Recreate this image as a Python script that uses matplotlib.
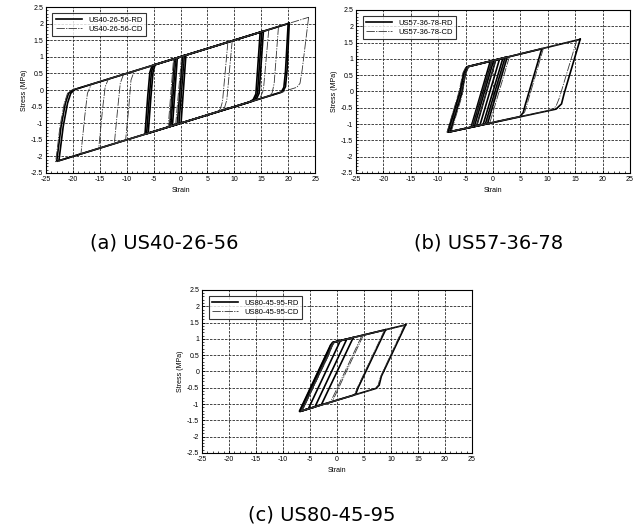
import matplotlib
matplotlib.use('Agg')
import matplotlib.pyplot as plt
from matplotlib.ticker import MultipleLocator

plt.rcParams['font.family'] = ['Liberation Sans', 'DejaVu Sans']
plt.rcParams['axes.unicode_minus'] = False

# axis ticks
strain_ticks = [-25, -20, -15, -10, -5, 0, 5, 10, 15, 20, 25]
strain_labels = ['-25', '-20', '-15', '-10', '-5', '0', '5', '10', '15', '20', '25']
stress_ticks = [-2.5, -2, -1.5, -1, -0.5, 0, 0.5, 1, 1.5, 2, 2.5]
stress_labels = ['-2.5', '-2', '-1.5', '-1', '-0.5', '0', '0.5', '1', '1.5', '2', '2.5']

# hysteresis loops: (strain, stress MPa) vertices
a_rd = [
    [(1.0, 1.05), (0.1, -0.99), (-1.5, -1.08), (-0.6, 0.97), (1.0, 1.05)],
    [(0.7, 1.04), (-0.3, -1.02), (-1.8, -1.09), (-0.9, 0.95), (0.7, 1.04)],
    [(0.4, 1.02), (-0.6, -1.03), (-2.0, -1.1), (-1.1, 0.94), (0.4, 1.02)],
    [(15.1, 1.76), (14.3, -0.1), (13.8, -0.28), (13.0, -0.35), (-6.3, -1.32),
     (-5.8, -0.2), (-5.4, 0.55), (-5.0, 0.75), (15.1, 1.76)],
    [(15.4, 1.77), (14.6, -0.1), (14.1, -0.27), (13.3, -0.34), (-6.0, -1.3),
     (-5.5, -0.2), (-5.1, 0.55), (-4.7, 0.77), (15.4, 1.77)],
    [(14.8, 1.74), (14.0, -0.12), (13.5, -0.29), (12.7, -0.37), (-6.6, -1.33),
     (-6.1, -0.2), (-5.7, 0.53), (-5.3, 0.73), (14.8, 1.74)],
    [(20.2, 2.01), (19.8, 0.6), (19.5, 0.1), (19.0, -0.05), (-23.0, -2.15),
     (-22.2, -1.1), (-21.4, -0.4), (-20.8, -0.1), (-20.0, 0.0), (20.2, 2.01)],
    [(20.0, 2.0), (19.5, 0.55), (19.2, 0.08), (18.7, -0.07), (-22.6, -2.13),
     (-21.8, -1.1), (-21.0, -0.4), (-20.4, -0.1), (-19.6, 0.02), (20.0, 2.0)],
]
a_cd = [
    [(0.6, 1.03), (-0.5, -1.02), (-2.0, -1.1), (-1.0, 0.95), (0.6, 1.03)],
    [(0.2, 1.01), (-0.9, -1.04), (-2.3, -1.12), (-1.3, 0.93), (0.2, 1.01)],
    [(23.8, 2.19), (22.6, 0.6), (22.2, 0.2), (21.6, 0.08), (-23.2, -2.16),
     (-22.4, -1.1), (-21.6, -0.4), (-21.0, -0.1), (-20.3, -0.01), (23.8, 2.19)],
    [(16.4, 1.82), (15.4, 0.0), (14.9, -0.2), (14.3, -0.28), (-18.5, -1.92),
     (-17.8, -0.8), (-17.3, -0.1), (-16.6, 0.17), (16.4, 1.82)],
    [(18.2, 1.91), (17.4, 0.2), (17.0, -0.1), (16.4, -0.18), (-15.2, -1.76),
     (-14.5, -0.6), (-14.0, 0.1), (-13.4, 0.33), (18.2, 1.91)],
    [(8.8, 1.44), (7.8, -0.35), (7.4, -0.57), (6.8, -0.66), (-12.3, -1.62),
     (-11.7, -0.6), (-11.2, 0.2), (-10.6, 0.47), (8.8, 1.44)],
    [(9.6, 1.48), (8.6, -0.3), (8.2, -0.52), (7.6, -0.62), (-10.2, -1.51),
     (-9.6, -0.5), (-9.2, 0.3), (-8.6, 0.57), (9.6, 1.48)],
]

b_rd = [
    [(15.9, 1.6), (13.0, -0.05), (12.5, -0.38), (11.5, -0.54), (-8.2, -1.25),
     (-6.0, 0.0), (-5.3, 0.58), (-4.8, 0.75), (15.9, 1.6)],
    [(8.9, 1.31), (5.9, -0.4), (5.5, -0.65), (4.9, -0.77), (-7.8, -1.23),
     (-5.8, -0.1), (-5.2, 0.55), (-4.6, 0.76), (8.9, 1.31)],
    [(2.6, 1.06), (-1.0, -0.99), (-3.4, -1.07), (0.1, 0.95), (2.6, 1.06)],
    [(2.2, 1.04), (-1.4, -1.0), (-3.7, -1.08), (-0.2, 0.94), (2.2, 1.04)],
    [(1.8, 1.02), (-1.8, -1.01), (-4.0, -1.09), (-0.5, 0.93), (1.8, 1.02)],
    [(0.5, 0.97), (-3.0, -1.06), (-8.3, -1.25), (-6.0, 0.0), (-5.3, 0.58),
     (-4.8, 0.75), (0.5, 0.97)],
    [(1.2, 1.0), (-2.4, -1.04), (-7.9, -1.24), (-5.7, 0.0), (-5.0, 0.57),
     (-4.5, 0.77), (1.2, 1.0)],
]
b_cd = [
    [(15.3, 1.58), (12.1, -0.2), (11.5, -0.45), (10.8, -0.56), (-8.4, -1.25),
     (-6.2, 0.0), (-5.5, 0.57), (-5.0, 0.74), (15.3, 1.58)],
    [(9.2, 1.33), (6.2, -0.4), (5.8, -0.62), (5.2, -0.76), (-7.6, -1.22),
     (-5.6, -0.1), (-5.0, 0.55), (-4.4, 0.77), (9.2, 1.33)],
    [(3.0, 1.07), (-0.6, -0.97), (-3.0, -1.06), (0.5, 0.97), (3.0, 1.07)],
    [(2.4, 1.05), (-1.2, -0.99), (-3.6, -1.08), (-0.1, 0.95), (2.4, 1.05)],
    [(-0.3, 0.94), (-3.9, -1.09), (-8.0, -1.24), (-5.8, 0.0), (-5.1, 0.57),
     (-4.6, 0.76), (-0.3, 0.94)],
]

c_rd = [
    [(12.7, 1.43), (8.2, -0.15), (7.8, -0.42), (7.2, -0.52), (-6.8, -1.22),
     (-1.8, 0.5), (-1.2, 0.78), (-0.8, 0.89), (12.7, 1.43)],
    [(9.0, 1.28), (3.9, -0.5), (3.5, -0.68), (3.0, -0.73), (-6.6, -1.21),
     (-1.6, 0.52), (-1.0, 0.8), (-0.6, 0.9), (9.0, 1.28)],
    [(3.0, 1.04), (-2.9, -1.02), (-6.7, -1.22), (-0.9, 0.83), (-0.6, 0.9), (3.0, 1.04)],
    [(1.8, 0.99), (-4.1, -1.09), (-6.9, -1.23), (-1.1, 0.82), (-0.7, 0.89), (1.8, 0.99)],
    [(0.6, 0.94), (-5.3, -1.14), (-7.0, -1.23), (-1.2, 0.81), (-0.8, 0.89), (0.6, 0.94)],
]
c_cd = [
    [(12.5, 1.42), (8.0, -0.18), (7.6, -0.43), (7.0, -0.53), (-6.7, -1.22),
     (-1.7, 0.5), (-1.1, 0.78), (-0.7, 0.89), (12.5, 1.42)],
    [(8.8, 1.27), (3.7, -0.52), (3.3, -0.7), (2.8, -0.74), (-6.5, -1.21),
     (-1.5, 0.52), (-0.9, 0.8), (-0.5, 0.9), (8.8, 1.27)],
    [(4.6, 1.1), (-1.2, -0.94), (-6.4, -1.2), (-0.7, 0.84), (-0.4, 0.9), (4.6, 1.1)],
    [(4.9, 1.12), (-0.9, -0.93), (-6.5, -1.2), (-0.8, 0.84), (-0.4, 0.9), (4.9, 1.12)],
]

specimens = ['US40-26-56', 'US57-36-78', 'US80-45-95']
captions = ['(a) US40-26-56', '(b) US57-36-78', '(c) US80-45-95']

fig = plt.figure(figsize=(6.43, 5.31), dpi=100)

rects = [[0.0715, 0.6742, 0.4185, 0.3126],
         [0.5537, 0.6742, 0.4261, 0.3070],
         [0.3142, 0.1469, 0.4199, 0.3070]]
cap_pos = [(0.255, 0.542), (0.760, 0.542), (0.50, 0.030)]


def draw(ax, rd, cd, name):
    for i, loop in enumerate(rd):
        xs, ys = zip(*loop)
        ax.plot(xs, ys, color='black', lw=1.2, solid_joinstyle='miter',
                label=name + '-RD' if i == 0 else None)
    for i, loop in enumerate(cd):
        xs, ys = zip(*loop)
        ax.plot(xs, ys, color='0.2', lw=0.6, dashes=(10, 1.5, 1.5, 1.5),
                label=name + '-CD' if i == 0 else None)

    ax.set_xlim(-25, 25)
    ax.set_ylim(-2.5, 2.5)
    ax.set_xticks(strain_ticks)
    ax.set_xticklabels(strain_labels)
    ax.set_yticks(stress_ticks)
    ax.set_yticklabels(stress_labels)
    ax.xaxis.set_minor_locator(MultipleLocator(1))
    ax.yaxis.set_minor_locator(MultipleLocator(0.1))
    ax.tick_params(which='both', direction='in', labelsize=5, pad=2)
    ax.tick_params(which='major', length=2.5, width=0.6)
    ax.tick_params(which='minor', length=1.5, width=0.5)
    ax.grid(True, which='major', color='0.15', lw=0.6, linestyle=(0, (3, 1.5)))
    for s in ax.spines.values():
        s.set_linewidth(0.8)
    ax.set_xlabel('Strain', fontsize=5, labelpad=3)
    ax.set_ylabel('Stress (MPa)', fontsize=5, labelpad=2)
    leg = ax.legend(loc='upper left', bbox_to_anchor=(0.01, 0.985), fontsize=5.5,
                    frameon=True, fancybox=False, edgecolor='black',
                    handlelength=3.5, borderpad=0.4, labelspacing=0.2)
    leg.get_frame().set_linewidth(0.8)


data = [(a_rd, a_cd), (b_rd, b_cd), (c_rd, c_cd)]
for rect, (rd, cd), name, cap, pos in zip(rects, data, specimens, captions, cap_pos):
    ax = fig.add_axes(rect)
    draw(ax, rd, cd, name)
    fig.text(pos[0], pos[1], cap, ha='center', va='center', fontsize=14,
             family='DejaVu Sans')

fig.savefig('out.png', dpi=100)
